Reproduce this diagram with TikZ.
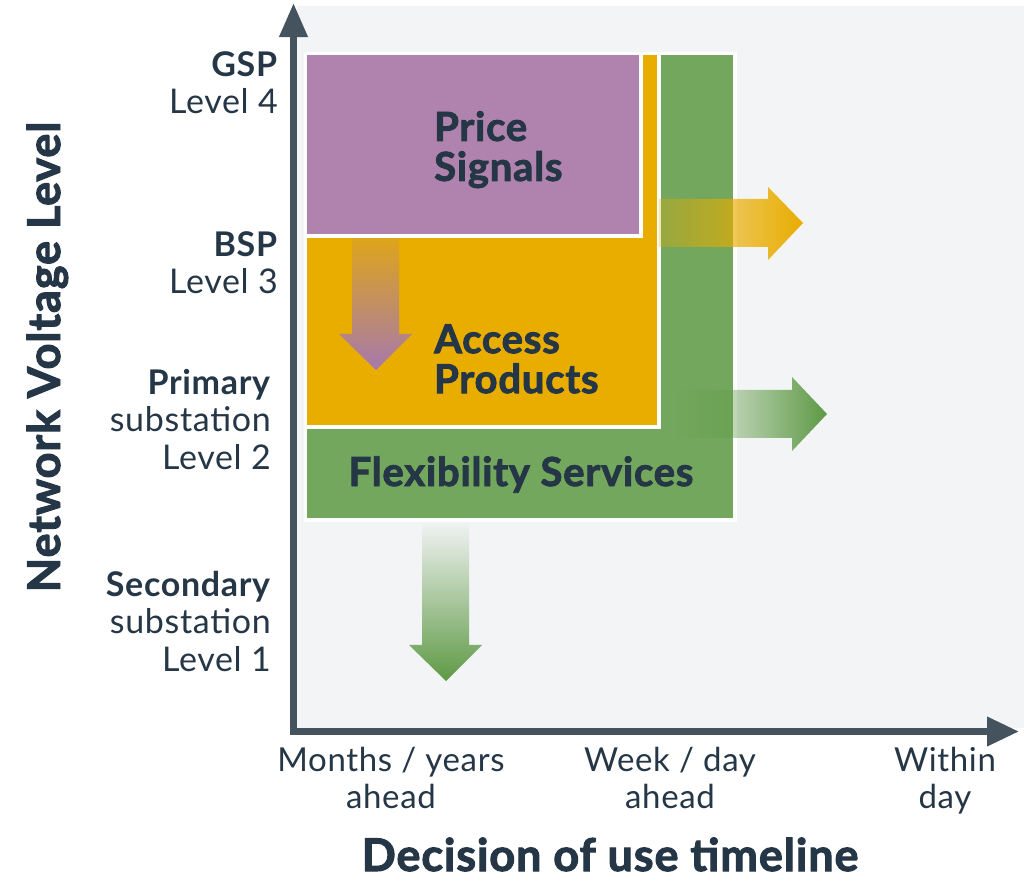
\documentclass[tikz,border=0pt]{standalone}
\usepackage{fontspec}
\setmainfont{Lato}[LetterSpace=2]
\newfontfamily\heavyfont{Lato}[LetterSpace=2, BoldFeatures={FakeBold=2.2}]
\usetikzlibrary{arrows.meta,fadings}
\definecolor{bggrey}{HTML}{F3F4F6}
\definecolor{flexgreen}{HTML}{73A75D}
\definecolor{arrowgreen}{HTML}{5E9A45}
\definecolor{accorange}{HTML}{E9AD00}
\definecolor{pricepurple}{HTML}{B083AE}
\definecolor{arrowpurple}{HTML}{A679AD}
\definecolor{ink}{HTML}{253746}
\definecolor{axiscol}{HTML}{45535F}
\tikzfading[name=fadesouth, top color=transparent!85, bottom color=transparent!0]
\tikzfading[name=fadeeast, left color=transparent!70, right color=transparent!0]
\tikzfading[name=fadeeastfull, left color=transparent!100, right color=transparent!0]
\tikzfading[name=fadesouthfull, top color=transparent!100, bottom color=transparent!0]
\begin{document}
\begin{tikzpicture}[x=1pt,y=-1pt,
  box/.style={draw=white, line width=3.5pt},
  axisline/.style={draw=axiscol, line width=7pt, line join=miter,
    arrows={Triangle[length=34pt,width=27pt]-Triangle[length=32pt,width=28pt]}},
  boxtitle/.style={font=\heavyfont\fontsize{40}{40}\selectfont\bfseries, text=ink, inner sep=0pt, align=left},
  lvl/.style={font=\fontsize{34}{37.5}\selectfont, text=ink, inner sep=0pt, align=right, anchor=north east},
  tline/.style={font=\fontsize{33}{36.5}\selectfont, text=ink, inner sep=0pt, align=center, anchor=north},
  axtitle/.style={font=\heavyfont\fontsize{45}{50}\selectfont\bfseries, text=ink, inner sep=0pt}
]
\useasboundingbox[fill=white] (0,0) rectangle (1024,881);
% plot background
\fill[bggrey] (297,6) rectangle (1024,728);
% boxes
\path[box, fill=flexgreen] (305.5,53.5) rectangle (735,520);
\path[box, fill=accorange] (305.5,53.5) rectangle (659,427);
% faded arrows over boxes
\fill[arrowpurple, path fading=fadesouth] (352,238) -- (399,238) -- (399,334) -- (412,334) -- (376,370) -- (339,334) -- (352,334) -- cycle;
\path[box, fill=pricepurple] (305.5,53.5) rectangle (641,236);
\fill[accorange, path fading=fadeeast] (659,199) -- (768,199) -- (768,187) -- (803,223) -- (768,260) -- (768,247) -- (659,247) -- cycle;
\fill[arrowgreen, path fading=fadeeastfull] (676,390) -- (792,390) -- (792,377) -- (827,414) -- (792,451) -- (792,438) -- (676,438) -- cycle;
\fill[arrowgreen, path fading=fadesouthfull] (422,521) -- (469,521) -- (469,645) -- (482,645) -- (446,681) -- (409,645) -- (422,645) -- cycle;
% box titles
\node[boxtitle, anchor=north west] (price) at (434,111) {Price\\Signals};
\node[boxtitle, anchor=north west] (access) at (434,324) {Access\\Products};
\node[boxtitle, anchor=base] (flex) at (521,486) {Flexibility Services};
% axes
\coordinate (ytip) at (293.5,3);
\coordinate (origin) at (293.5,731.5);
\coordinate (xtip) at (1019,731.5);
\draw[axisline] (ytip) -- (origin) -- (xtip);
% level labels
\node[lvl] (gsp) at (278,51) {\textbf{GSP}\\Level 4};
\node[lvl] (bsp) at (278,231) {\textbf{BSP}\\Level 3};
\node[lvl] (prim) at (271,369) {\textbf{Primary}\\substation\\Level 2};
\node[lvl] (sec) at (271,571) {\textbf{Secondary}\\substation\\Level 1};
% timeline labels
\node[tline] (months) at (391,747) {Months / years\\ahead};
\node[tline] (week) at (670,747) {Week / day\\ahead};
\node[tline] (within) at (945,747) {Within\\day};
% axis titles
\node[axtitle, rotate=90, anchor=base] (ytitle) at (60,357) {Network Voltage Level};
\node[axtitle, anchor=base] (xtitle) at (610,871) {Decision of use timeline};
\end{tikzpicture}
\end{document}
